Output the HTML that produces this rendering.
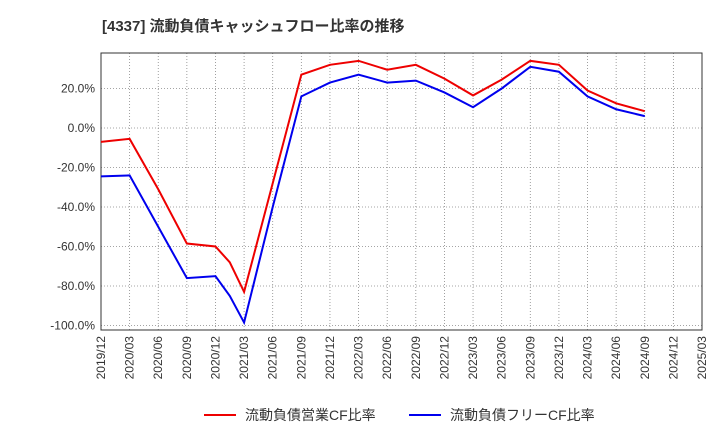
<!DOCTYPE html>
<html><head><meta charset="utf-8"><style>
body{margin:0;background:#fff;font-family:"Liberation Sans","Noto Sans CJK JP",sans-serif}
svg text{font-family:"Liberation Sans","Noto Sans CJK JP",sans-serif}
</style></head><body>
<svg id="c" width="720" height="440" xmlns="http://www.w3.org/2000/svg">
<text x="102" y="31" font-size="15" font-weight="700" fill="#333">[4337]  流動負債キャッシュフロー比率の推移</text>
<g id="grid"></g><g id="axes"></g><g id="series"></g>
<g>
<line x1="204" y1="415" x2="236" y2="415" stroke="#e00" stroke-width="2"/>
<text x="245" y="420" font-size="14" fill="#333">流動負債営業CF比率</text>
<line x1="409" y1="415" x2="441" y2="415" stroke="#00e" stroke-width="2"/>
<text x="450" y="420" font-size="14" fill="#333">流動負債フリーCF比率</text>
</g>
</svg>
<script>
const xLabels=["2019/12","2020/03","2020/06","2020/09","2020/12","2021/03","2021/06","2021/09","2021/12","2022/03","2022/06","2022/09","2022/12","2023/03","2023/06","2023/09","2023/12","2024/03","2024/06","2024/09","2024/12","2025/03"];
const yTicks=[20,0,-20,-40,-60,-80,-100];
const qIdx=[0,1,2,3,4,4.5,5,6,7,8,9,10,11,12,13,14,15,16,17,18,19];
const opCF=[-7,-5.5,-31,-58.5,-60,-68,-83,-28,27,32,34,29.5,32,25,16.5,24.5,34,32,19,12.5,8.5];
const freeCF=[-24.5,-24,-50,-76,-75,-85,-98.5,-40,16,23,27,23,24,18,10.5,20,31,28.5,16,9.5,6];
const L=101,R=702,T=53,B=330;
const xs=i=>L+(R-L)*i/21;
const ys=v=>128-v*39.5/20;
const NS="http://www.w3.org/2000/svg";
function mk(p,t,a){const e=document.createElementNS(NS,t);for(const k in a)e.setAttribute(k,a[k]);p.appendChild(e);return e;}
const g=document.getElementById('grid'),ax=document.getElementById('axes'),s=document.getElementById('series');
xLabels.forEach((lb,i)=>{const x=xs(i);
const l=mk(g,'line',{x1:x,x2:x,y1:T,y2:B,stroke:'#888','stroke-dasharray':'1,2','stroke-width':0.8});


const t=mk(ax,'text',{x:0,y:0,'font-size':12,fill:'#333','text-anchor':'end',transform:`translate(${x+4},${B+6}) rotate(-90)`});
t.textContent=lb;

});
yTicks.forEach(v=>{const y=ys(v);
const l=mk(g,'line',{x1:L,x2:R,y1:y,y2:y,stroke:'#888','stroke-dasharray':'1,2','stroke-width':0.8});


const t=mk(ax,'text',{x:L-6,y:y+4,'font-size':12,fill:'#333','text-anchor':'end'});
t.textContent=v.toFixed(1)+'%';

});
const fr=mk(ax,'rect',{x:L,y:T,width:R-L,height:B-T,fill:'none',stroke:'#333','stroke-width':1});


function line(d,c,n){const p=mk(s,'polyline',{points:d.map((v,i)=>xs(qIdx[i])+','+ys(v)).join(' '),fill:'none',stroke:c,'stroke-width':2});

}
line(opCF,'#e00','operating-cf-line');
line(freeCF,'#00e','free-cf-line');
</script>
</body></html>
